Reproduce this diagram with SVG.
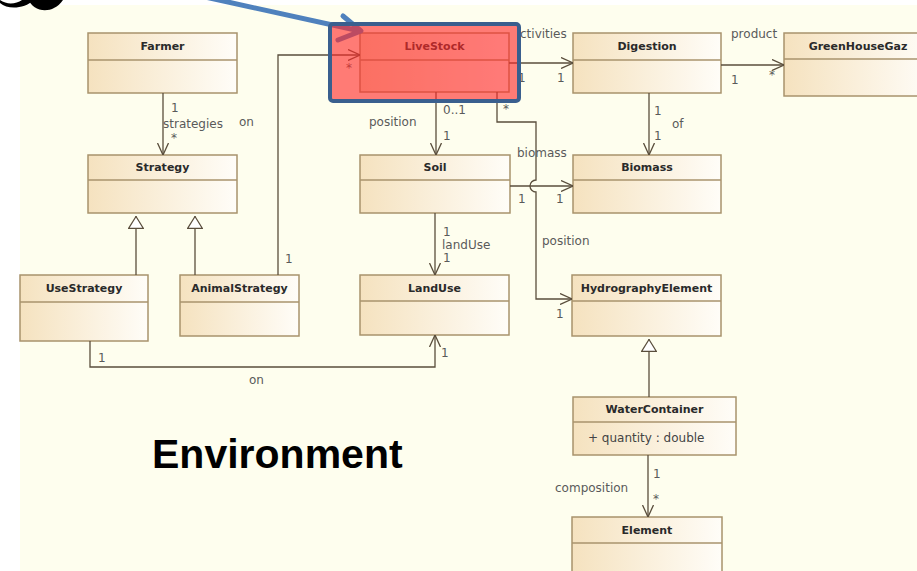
<svg xmlns="http://www.w3.org/2000/svg" width="917" height="571" viewBox="0 0 917 571">
<style>
.box{fill:url(#boxg);stroke:#A8936C;stroke-width:1.5}
.div{stroke:#A8936C;stroke-width:1.5}
.name{font-family:"DejaVu Sans",sans-serif;font-weight:bold;font-size:11px;fill:#2a2a2a;text-anchor:middle}
.attr{font-family:"DejaVu Sans",sans-serif;font-size:12px;fill:#444}
.lbl{font-family:"DejaVu Sans",sans-serif;font-size:12px;fill:#5a5a5a}
.edge{fill:none;stroke:#5A4E3C;stroke-width:1.3}
.assoc{marker-end:url(#open)}
.gen{marker-end:url(#tri)}
.title{font-family:"Liberation Sans",Arial,sans-serif;font-weight:bold;font-size:41px;fill:#000}
</style>
<defs>
<linearGradient id="boxg" x1="0" y1="0" x2="1" y2="0">
<stop offset="0" stop-color="#F5E2BF"/>
<stop offset="1" stop-color="#FFFDF8"/>
</linearGradient>
<marker id="open" viewBox="0 0 12 12" refX="12" refY="6" markerWidth="12" markerHeight="12" markerUnits="userSpaceOnUse" orient="auto">
<path d="M0,0.5 L12,6 L0,11.5" fill="none" stroke="#5A4E3C" stroke-width="1.3"/>
</marker>
<marker id="tri" viewBox="0 0 13 16" refX="13" refY="8" markerWidth="13" markerHeight="16" markerUnits="userSpaceOnUse" orient="auto">
<path d="M0.6,0.6 L12.5,8 L0.6,15.4 Z" fill="#fff" stroke="#5A4E3C" stroke-width="1.2"/>
</marker>
</defs>

<rect x="0" y="0" width="917" height="571" fill="#fff"/>
<rect x="20" y="5" width="897" height="566" fill="#FEFEEE"/>
<path d="M0,3 C8,10 24,9 34,0 L22,0 C16,4 7,5 0,0 Z" fill="#000"/>
<path d="M29,0 C32,11 52,16 63,0 Z" fill="#000"/>

<g id="Farmer"><rect class="box" x="88" y="33" width="149" height="60"/><line class="div" x1="88" y1="60" x2="237" y2="60"/><text class="name" x="162.5" y="50">Farmer</text></g>
<g id="Strategy"><rect class="box" x="88" y="155" width="149" height="58"/><line class="div" x1="88" y1="180" x2="237" y2="180"/><text class="name" x="162.5" y="171">Strategy</text></g>
<g id="UseStrategy"><rect class="box" x="20" y="275" width="128" height="66"/><line class="div" x1="20" y1="302" x2="148" y2="302"/><text class="name" x="84" y="292">UseStrategy</text></g>
<g id="AnimalStrategy"><rect class="box" x="180" y="275" width="119" height="61"/><line class="div" x1="180" y1="302" x2="299" y2="302"/><text class="name" x="239.5" y="292">AnimalStrategy</text></g>
<g id="LiveStock"><rect class="box" x="360" y="33" width="149" height="59"/><line class="div" x1="360" y1="60" x2="509" y2="60"/><text class="name" x="434.5" y="50">LiveStock</text></g>
<g id="Soil"><rect class="box" x="360" y="155" width="150" height="58"/><line class="div" x1="360" y1="180" x2="510" y2="180"/><text class="name" x="435" y="171">Soil</text></g>
<g id="LandUse"><rect class="box" x="360" y="275" width="149" height="60"/><line class="div" x1="360" y1="301" x2="509" y2="301"/><text class="name" x="434.5" y="292">LandUse</text></g>
<g id="Digestion"><rect class="box" x="573" y="33" width="148" height="60"/><line class="div" x1="573" y1="60" x2="721" y2="60"/><text class="name" x="647" y="50">Digestion</text></g>
<g id="GreenHouseGaz"><rect class="box" x="784" y="33" width="148" height="63"/><line class="div" x1="784" y1="59" x2="932" y2="59"/><text class="name" x="858" y="50">GreenHouseGaz</text></g>
<g id="Biomass"><rect class="box" x="573" y="155" width="148" height="58"/><line class="div" x1="573" y1="180" x2="721" y2="180"/><text class="name" x="647" y="171">Biomass</text></g>
<g id="HydrographyElement"><rect class="box" x="572" y="275" width="149" height="61"/><line class="div" x1="572" y1="301" x2="721" y2="301"/><text class="name" x="646.5" y="292">HydrographyElement</text></g>
<g id="WaterContainer"><rect class="box" x="573" y="397" width="163" height="58"/><line class="div" x1="573" y1="422" x2="736" y2="422"/><text class="name" x="654.5" y="413">WaterContainer</text><text class="attr" x="588" y="442">+ quantity : double</text></g>
<g id="Element"><rect class="box" x="572" y="517" width="150" height="60"/><line class="div" x1="572" y1="543" x2="722" y2="543"/><text class="name" x="647" y="534">Element</text></g>

<g id="connectors">
<path class="edge assoc" d="M163,93 V155"/>
<path class="edge assoc" d="M278,275 V55 H360"/>
<path class="edge gen" d="M136,275 V216"/>
<path class="edge gen" d="M195,275 V216"/>
<path class="edge assoc" d="M90,341 V367 H435 V335"/>
<path class="edge assoc" d="M436,92 V155"/>
<path class="edge assoc" d="M435,213 V275"/>
<path class="edge assoc" d="M509,63 H573"/>
<path class="edge assoc" d="M510,186 H573"/>
<path class="edge assoc" d="M497,92 V122 H536 V180 A6,6 0 0 0 536,192 V299 H572"/>
<path class="edge assoc" d="M721,65 H784"/>
<path class="edge assoc" d="M649,93 V155"/>
<path class="edge gen" d="M649,397 V339"/>
<path class="edge assoc" d="M648,455 V517"/>
</g>

<g id="labels">
<text class="lbl" x="171" y="112">1</text>
<text class="lbl" x="163" y="128">strategies</text>
<text class="lbl" x="171" y="142">*</text>
<text class="lbl" x="239" y="126">on</text>
<text class="lbl" x="285" y="263">1</text>
<text class="lbl" x="346" y="72">*</text>
<text class="lbl" x="443" y="114">0..1</text>
<text class="lbl" x="369" y="126">position</text>
<text class="lbl" x="443" y="140">1</text>
<text class="lbl" x="520" y="38">ctivities</text>
<text class="lbl" x="518" y="82">1</text>
<text class="lbl" x="557" y="82">1</text>
<text class="lbl" x="503" y="113">*</text>
<text class="lbl" x="517" y="157">biomass</text>
<text class="lbl" x="518" y="203">1</text>
<text class="lbl" x="556" y="203">1</text>
<text class="lbl" x="542" y="245">position</text>
<text class="lbl" x="556" y="318">1</text>
<text class="lbl" x="443" y="236">1</text>
<text class="lbl" x="442" y="249">landUse</text>
<text class="lbl" x="443" y="262">1</text>
<text class="lbl" x="98" y="362">1</text>
<text class="lbl" x="249" y="384">on</text>
<text class="lbl" x="441" y="357">1</text>
<text class="lbl" x="731" y="38">product</text>
<text class="lbl" x="731" y="84">1</text>
<text class="lbl" x="769" y="79">*</text>
<text class="lbl" x="654" y="115">1</text>
<text class="lbl" x="672" y="128">of</text>
<text class="lbl" x="654" y="140">1</text>
<text class="lbl" x="555" y="492">composition</text>
<text class="lbl" x="653" y="478">1</text>
<text class="lbl" x="653" y="503">*</text>
</g>

<text class="title" x="152" y="468">Environment</text>

<g id="callout">
<path d="M205,-3 L360,31" fill="none" stroke="#4F81BD" stroke-width="5"/>
<path d="M343,16 L361,31 L338,40" fill="none" stroke="#4F81BD" stroke-width="5" stroke-linecap="round" stroke-linejoin="round"/>
<rect x="330" y="24" width="189" height="77" rx="3" fill="#FF2A2A" fill-opacity="0.62" stroke="#3A5F8E" stroke-width="4"/>
</g>
</svg>
